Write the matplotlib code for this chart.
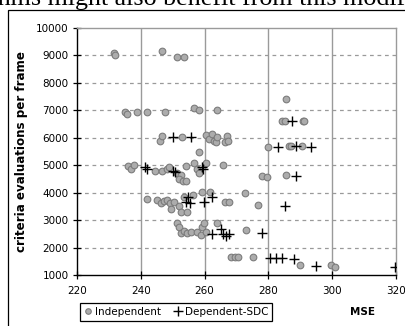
import matplotlib
matplotlib.use("Agg")
import matplotlib.pyplot as plt
from matplotlib.lines import Line2D
from matplotlib.patches import Rectangle

# MSE vs. criteria evaluations per frame
indep_mse = [
    231.5, 232.0, 246.8, 251.2, 253.6,
    235.0, 235.6, 238.7, 242.0, 247.7, 256.8, 258.3, 264.0, 285.4,
    284.2, 285.1, 290.7, 291.3,
    245.9, 246.8, 253.0, 260.5, 261.5, 262.4, 262.8, 263.6, 264.0, 266.4, 267.0, 267.4,
    258.3,
    280.0, 286.4, 287.0, 290.4,
    235.9, 236.8, 238.0, 244.6, 246.8, 248.3, 248.7, 251.5, 252.7, 252.0, 253.3, 254.3,
    254.3, 256.8, 257.7, 258.3, 260.5, 265.8,
    278.0, 279.5, 285.4,
    241.8, 245.2, 246.2, 247.4, 248.3, 249.0, 249.6, 250.5, 252.0, 252.7, 253.6, 254.6,
    256.4, 259.3, 261.7, 266.4, 267.7, 272.6, 276.7,
    251.2, 252.0, 252.7, 253.6, 254.6, 255.8, 257.7, 258.9, 259.3, 259.9, 260.5, 263.9, 273.0,
    268.3, 269.5, 270.6, 275.1, 289.8, 299.7, 301.0,
]
indep_evals = [
    9100, 9000, 9150, 8950, 8950,
    6930, 6850, 6930, 6930, 6930, 7070, 7030, 7030, 7400,
    6600, 6600, 6600, 6600,
    5880, 6050, 6020, 6100, 5950, 6150, 5870, 5830, 6030, 5850, 6050, 5900,
    5500,
    5650, 5700, 5700, 5700,
    4960, 4850, 5000, 4800, 4800, 4850, 4930, 4720, 4640, 4480, 4430, 4430,
    4960, 5070, 4850, 4700, 5070, 5000,
    4600, 4560, 4640,
    3760, 3730, 3620, 3700, 3730, 3620, 3400, 3650, 3500, 3300, 3840, 3280,
    3900, 4020, 4020, 3650, 3650, 3980, 3540,
    2880, 2750, 2530, 2600, 2530, 2560, 2560, 2450, 2750, 2900, 2560, 2890, 2640,
    1650, 1650, 1650, 1650, 1360, 1360, 1300,
]

dep_mse = [
    250.0, 255.8,
    287.3,
    283.0, 288.5, 293.5,
    241.2, 241.8, 250.0, 250.8, 259.3, 259.6,
    288.8,
    254.3, 255.5, 254.9, 259.9, 262.4,
    285.1,
    262.4, 265.2, 265.8, 266.7, 267.7, 278.0,
    280.4, 282.3, 284.2, 287.9, 294.8, 319.7,
]
dep_evals = [
    6020, 6020,
    6600,
    5650, 5700, 5650,
    4930, 4850, 4800, 4750, 4930, 4850,
    4600,
    3650, 3620, 3840, 3650, 3840,
    3500,
    2490, 2670, 2490, 2420, 2490, 2530,
    1620, 1620, 1620, 1580, 1330, 1300,
]

x_ticks = [220, 240, 260, 280, 300, 320]
y_ticks = [1000, 2000, 3000, 4000, 5000, 6000, 7000, 8000, 9000, 10000]

W, H = 406, 326
fig = plt.figure(figsize=(W / 100, H / 100), dpi=100)
fig.patch.set_facecolor("white")

# running text of the page above the chart
fig.text(-70 / W, 1 - 5.5 / H, "algorithms might also benefit from this modification",
         family="Liberation Serif", fontsize=18.7, va="baseline", ha="left")

# chart frame
fig.patches.append(Rectangle((8.5 / W, -0.2), 1.5, 1 - 10 / H + 0.2,
                             transform=fig.transFigure, fill=False,
                             edgecolor="black", linewidth=0.9))

ax = fig.add_axes([77 / W, 1 - 275 / H, 319 / W, 247 / H])
ax.set_xlim(220, 320)
ax.set_ylim(1000, 10000)
ax.set_xticks(x_ticks)
ax.set_yticks(y_ticks)
ax.set_xticklabels([str(v) for v in x_ticks])
ax.set_yticklabels([str(v) for v in y_ticks])

grid_c = "#9a9a9a"
for v in y_ticks[1:-1]:
    ax.axhline(v, color=grid_c, linestyle=(0, (3, 3)), linewidth=0.9, zorder=0)
for v in x_ticks[1:-1]:
    ax.axvline(v, color=grid_c, linewidth=1.0, zorder=0)

for side in ("top", "right"):
    ax.spines[side].set_color(grid_c)
    ax.spines[side].set_linewidth(1.0)
for side in ("left", "bottom"):
    ax.spines[side].set_color("black")
    ax.spines[side].set_linewidth(1.0)

ax.tick_params(axis="both", direction="inout", length=6, width=0.9,
               labelsize=7.5, colors="black", pad=3)
ax.tick_params(axis="x", pad=5)

ax.plot(indep_mse, indep_evals, linestyle="none", marker="o", markersize=4.8,
        markerfacecolor="#acacac", markeredgecolor="#7c7c7c", markeredgewidth=0.8,
        zorder=3)
ax.plot(dep_mse, dep_evals, linestyle="none", marker="+", markersize=6.5,
        color="black", markeredgewidth=1.0, zorder=4)

fig.text(22 / W, 1 - 151 / H, "criteria evaluations per frame", rotation=90,
         fontsize=8.6, fontweight="bold", ha="center", va="center")
fig.text(363 / W, 1 - 312 / H, "MSE", fontsize=7.5, fontweight="bold",
         ha="center", va="center")

handles = [
    Line2D([], [], linestyle="none", marker="o", markersize=4.0,
           markerfacecolor="#acacac", markeredgecolor="#7c7c7c", markeredgewidth=0.8),
    Line2D([], [], linestyle="none", marker="+", markersize=6.5,
           color="black", markeredgewidth=1.0),
]
leg = fig.legend(handles, ["Independent", "Dependent-SDC"], ncol=2,
                 loc="center", bbox_to_anchor=(176 / W, 1 - 312 / H),
                 fontsize=7.5, frameon=True, fancybox=False, framealpha=1,
                 edgecolor="black", handlelength=0.8, handletextpad=0.3,
                 columnspacing=1.2, borderpad=0.35)
leg.get_frame().set_linewidth(0.9)

fig.savefig("out.png", dpi=100)
